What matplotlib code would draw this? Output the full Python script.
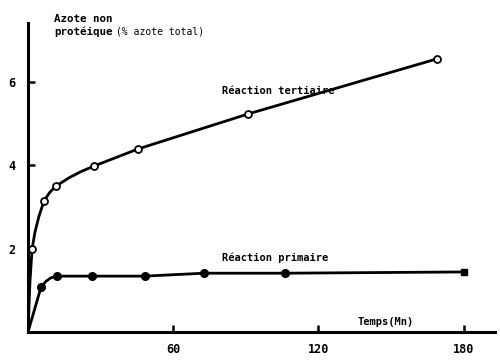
import matplotlib
matplotlib.use("Agg")
import matplotlib.pyplot as plt

# Measured points (time in minutes, % of total nitrogen)
tert_t = [1.7, 6.6, 11.6, 27.3, 45.5, 91, 169]
tert_v = [2.0, 3.14, 3.5, 3.98, 4.39, 5.23, 6.55]
prim_t = [5.4, 12, 26.4, 48.3, 72.7, 106]
prim_v = [1.08, 1.34, 1.34, 1.34, 1.41, 1.41]
prim_end_t = [180]
prim_end_v = [1.44]

# Hand-drawn curves
tert_curve_t = [0, 0.8, 1.7, 2.9, 4.5, 6.6, 9, 11.6, 17, 22, 27.3, 45.5, 91, 169]
tert_curve_v = [0, 1.2, 2.0, 2.4, 2.77, 3.14, 3.35, 3.5, 3.7, 3.85, 3.98, 4.39, 5.23, 6.55]
prim_curve_t = [0, 5.4, 7.5, 9.5, 12, 26.4, 48.3, 72.7, 106, 180]
prim_curve_v = [0, 1.08, 1.22, 1.3, 1.34, 1.34, 1.34, 1.41, 1.41, 1.44]

x_ticks = [60, 120, 180]
y_ticks = [2, 4, 6]

W, H = 500, 363
fig = plt.figure(figsize=(5, 3.63), dpi=100)
x0, y0, x1, y1 = 28, 332, 495, 23
ax = fig.add_axes([x0 / W, 1 - y0 / H, (x1 - x0) / W, (y0 - y1) / H])
ax.set_xlim(0, (x1 - x0) / 2.42)
ax.set_ylim(0, (y0 - y1) / 41.7)

for s in ["top", "right"]:
    ax.spines[s].set_visible(False)
for s in ["left", "bottom"]:
    ax.spines[s].set_linewidth(2.2)
    ax.spines[s].set_color("black")

font = dict(family="DejaVu Sans Mono", weight="bold")

ax.set_xticks(x_ticks)
ax.set_yticks(y_ticks)
ax.set_xticklabels([str(v) for v in x_ticks], fontdict=dict(size=8.5, **font))
ax.set_yticklabels([str(v) for v in y_ticks], fontdict=dict(size=8.5, **font))
ax.tick_params(axis="both", direction="in", length=5, width=1.8)
ax.tick_params(axis="x", pad=8)
ax.tick_params(axis="y", pad=9)

lc = "black"
ax.plot(tert_curve_t, tert_curve_v, color=lc, lw=2.0, solid_capstyle="round", zorder=2)
ax.plot(prim_curve_t, prim_curve_v, color=lc, lw=2.0, solid_capstyle="round", zorder=2)
ax.plot(tert_t, tert_v, "o", ms=5, mfc="white", mec=lc, mew=1.3, zorder=3)
ax.plot(prim_t, prim_v, "o", ms=5.5, mfc=lc, mec=lc, zorder=3)
ax.plot(prim_end_t, prim_end_v, "s", ms=4.5, mfc=lc, mec=lc, zorder=3)

fig.text(54 / W, 1 - 19 / H, "Azote non", ha="left", va="center", size=7.8, **font)
fig.text(54 / W, 1 - 32 / H, "protéique", ha="left", va="center", size=7.8, **font)
fig.text(116 / W, 1 - 32 / H, "(% azote total)", ha="left", va="center", size=7.0,
         family="DejaVu Sans Mono")
fig.text(222 / W, 1 - 91 / H, "Réaction tertiaire", ha="left", va="center", size=7.5, **font)
fig.text(222 / W, 1 - 258 / H, "Réaction primaire", ha="left", va="center", size=7.5, **font)
fig.text(357 / W, 1 - 322 / H, "Temps(Mn)", ha="left", va="center", size=7.5, **font)

fig.savefig("out.png", dpi=100)
